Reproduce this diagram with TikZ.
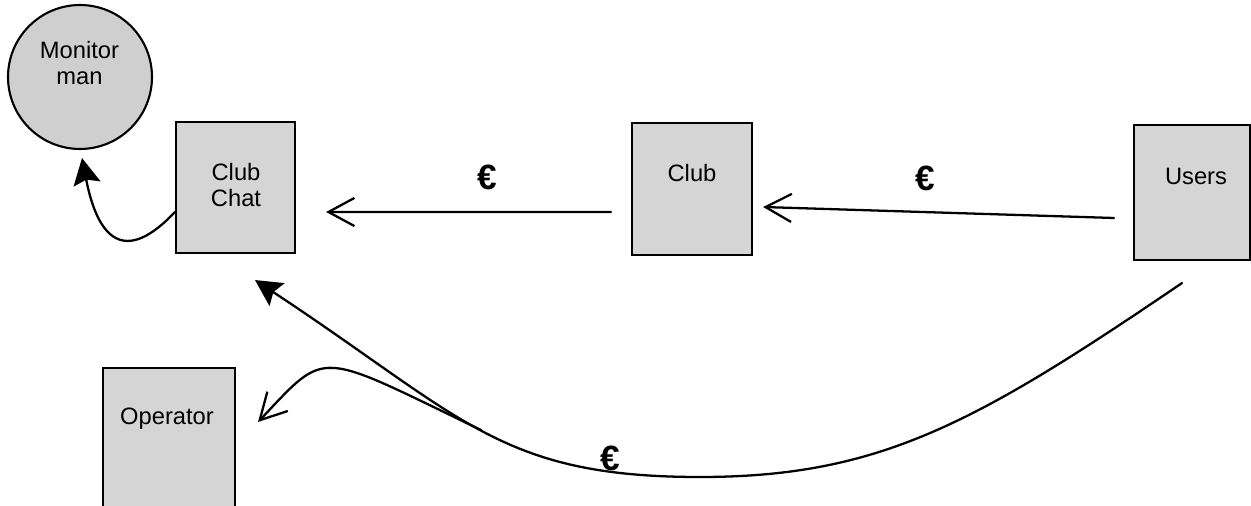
\documentclass[tikz,border=0pt]{standalone}
\usepackage{fontspec}
\setmainfont{Liberation Sans}
\usetikzlibrary{arrows.meta,calc}
\begin{document}
\begin{tikzpicture}[x=0.02cm,y=-0.02cm,
  shape box/.style={draw=black, line width=1.2pt, fill=gray!33, inner sep=0pt, rectangle},
  shape circ/.style={draw=black, line width=1.2pt, fill=gray!38, inner sep=0pt, circle},
  lbl/.style={font=\fontsize{13.5}{14.8}\selectfont, align=center, inner sep=0pt},
  euro/.style={font=\fontsize{20}{22}\selectfont\bfseries, inner sep=0pt},
  conn/.style={line width=1.3pt, line cap=round},
  opentip/.style={conn, -{Straight Barb[length=14.8pt, width=16pt, line width=1.3pt]}},
  filledtip/.style={conn, -{Stealth[length=15pt, width=15.5pt, inset=2.5pt]}}
]
\useasboundingbox (0,0) rectangle (1251,506);

% nodes
\node[shape circ, minimum size=2.88cm] (mm) at (80,77) {};
\node[lbl] (mmt) at (79.5,63.5) {Monitor\\man};

\node[shape box, minimum width=2.38cm, minimum height=2.62cm] (cc) at (235.5,187.5) {};
\node[lbl] (cct) at (236,185) {Club\\Chat};

\node[shape box, minimum width=2.4cm, minimum height=2.64cm] (club) at (692,189) {};
\node[lbl, anchor=base] (clubt) at (692,182) {Club};

\node[shape box, minimum width=2.32cm, minimum height=2.7cm] (users) at (1192,192.5) {};
\node[lbl, anchor=base] (userst) at (1196,185) {Users};

\node[shape box, minimum width=2.64cm, minimum height=3.24cm] (op) at (169,449) {};
\node[lbl, anchor=base] (opt) at (167,425) {Operator};

% euro labels
\node[euro] (e1) at (487,177) {€};
\node[euro] (e2) at (925,178) {€};
\node[euro] (e3) at (610,458) {€};

% connector end points
\coordinate (c1s) at ($(club.west)+(-20,23)$);
\coordinate (c1e) at ($(cc.east)+(30,24.5)$);
\coordinate (c2s) at ($(users.west)+(-19,25.5)$);
\coordinate (c2e) at ($(club.east)+(10,18)$);
\coordinate (mms) at ($(cc.west)+(0,24.5)$);
\coordinate (mme) at ($(mm.south)+(2,8)$);
\coordinate (bigs) at ($(users.south)+(-10,22)$);
\coordinate (bigb) at (700,477);
\coordinate (bige) at ($(cc.south)+(19.5,26)$);
\coordinate (split) at (481,430);
\coordinate (ope) at ($(op.east)+(22,-27)$);

% connectors
\draw[opentip] (c1s) -- (c1e);
\draw[opentip] (c2s) -- (c2e);
\draw[filledtip] (mms) .. controls (125,265) and (98,240) .. (mme);
\draw[filledtip] (bigs) .. controls (976,423) and (880,477) .. (bigb)
   .. controls (500,477) and (464,418) .. (bige);
\draw[opentip] (split) .. controls (315,350) and (328,348) .. (ope);
\end{tikzpicture}
\end{document}
